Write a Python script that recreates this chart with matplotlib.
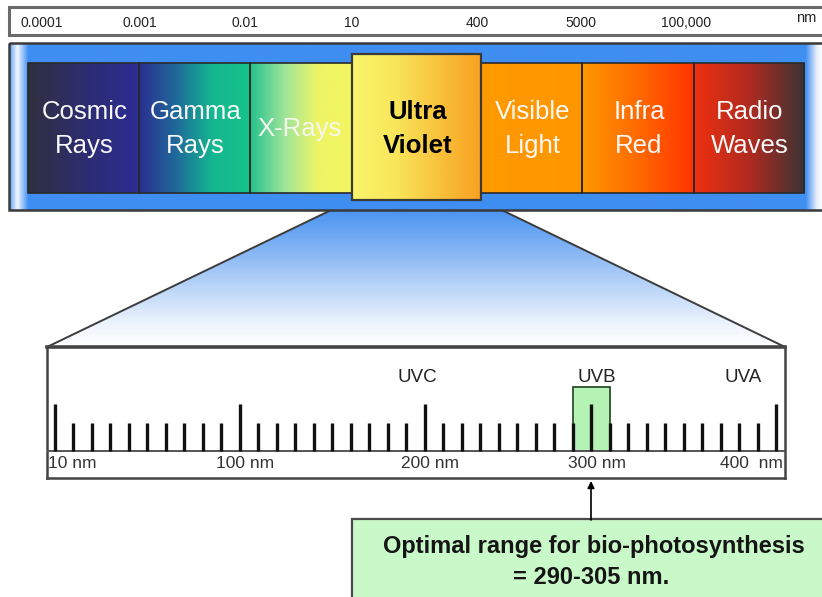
import numpy as np
import matplotlib
matplotlib.use("Agg")
import matplotlib.pyplot as plt
from matplotlib.colors import LinearSegmentedColormap
from matplotlib.patches import Rectangle, Polygon

# ---------------- data ----------------
scale_labels = ["0.0001", "0.001", "0.01", "10", "400", "5000", "100,000"]
scale_unit = "nm"
band_names = ["Cosmic\nRays", "Gamma\nRays", "X-Rays", "Ultra\nViolet",
              "Visible\nLight", "Infra\nRed", "Radio\nWaves"]
band_colors = [
    ["#30303f", "#2d2d70", "#2c2c96"],
    ["#2a2e92", "#1f6a9a", "#14b890", "#14c48a"],
    ["#24c28e", "#9ee49a", "#eef566", "#f4f560"],
    ["#faf46c", "#f9e65a", "#f8c23c", "#f8a020"],
    ["#ff9a00", "#ff9600"],
    ["#ff9800", "#ff6a00", "#ff3300"],
    ["#f03010", "#b02a20", "#3a3434"],
]
ruler_nm = [10, 100, 200, 300, 400]
ruler_major_idx = [0, 10, 20, 29, 39]
ruler_n_ticks = 40
ruler_labels = ["10 nm", "100 nm", "200 nm", "300 nm", "400  nm"]
uv_names = ["UVC", "UVB", "UVA"]
uv_label_idx = [19.6, 29.3, 37.2]
uvb_highlight_idx = (28, 30)
note_lines = ["Optimal range for bio-photosynthesis", "= 290-305 nm."]

# ---------------- figure ----------------
W, H = 822, 597
fig = plt.figure(figsize=(W / 100, H / 100), dpi=100)
ax = fig.add_axes([0, 0, 1, 1])
FONT = "Liberation Sans"


def grad_img(a, x0, y0, x1, y1, colors, vertical=False, z=2, stops=None):
    if stops is None:
        cmap = LinearSegmentedColormap.from_list("g", colors, N=1024)
    else:
        cmap = LinearSegmentedColormap.from_list("g", list(zip(stops, colors)), N=1024)
    v = np.linspace(0, 1, 1024)
    arr = v.reshape(-1, 1) if vertical else v.reshape(1, -1)
    im = a.imshow(arr, cmap=cmap, extent=(x0, x1, y1, y0), origin="upper",
                  aspect="auto", interpolation="bilinear", zorder=z)
    return im


# top scale bar
ax.add_patch(Rectangle((9, 7), 830, 28, fc="white", ec="#6a6a6a", lw=2.2, zorder=3))
scale_x = [42, 140, 245, 352, 477, 581, 686]
for lab, x in zip(scale_labels, scale_x):
    ax.text(x, 23, lab, ha="center", va="center", fontsize=10, family=FONT,
            color="#222222", zorder=4)
ax.text(796, 18, scale_unit, ha="left", va="center", fontsize=10.5, family=FONT,
        color="#222222", zorder=4)

# funnel (drawn below the blue band)
fun_pts = [(352, 200), (481, 200), (785, 347), (47, 347)]
fun = Polygon(fun_pts, closed=True, fc="none", ec="none", zorder=1)
ax.add_patch(fun)
im = grad_img(ax, 40, 200, 790, 347,
              ["#3a8cf0", "#7cb0f4", "#bcd6f8", "#eef4fd", "#ffffff"],
              vertical=True, z=1, stops=[0, 0.3, 0.6, 0.85, 1])
im.set_clip_path(fun)
ax.plot([352, 47], [200, 347], color="#3c3c3c", lw=1.4, zorder=2)
ax.plot([481, 785], [200, 347], color="#3c3c3c", lw=1.4, zorder=2)

# blue band
bx0, bx1 = 9, 822
grad_img(ax, bx0, 43, bx1, 210,
         ["#5a9ef4", "#f4f8ff", "#3f8ef2", "#3f8ef2", "#e6eefc", "#ffffff"],
         stops=[0, (17 - bx0) / (bx1 - bx0), (28 - bx0) / (bx1 - bx0),
                (805 - bx0) / (bx1 - bx0), (816 - bx0) / (bx1 - bx0), 1], z=3)
ax.add_patch(Rectangle((9, 43), 840, 167, fc="none", ec="#3a3a3a", lw=1.8, zorder=4))

# spectrum bands
edges = [28, 139, 250, 352, 481, 582, 694, 804]
top, bot = 63, 193
for i, (name, cols) in enumerate(zip(band_names, band_colors)):
    x0, x1 = edges[i], edges[i + 1]
    if i == 3:
        y0, y1, z = 54, 200, 7
    else:
        y0, y1, z = top, bot, 5
    grad_img(ax, x0, y0, x1, y1, cols, z=z)
    ax.add_patch(Rectangle((x0, y0), x1 - x0, y1 - y0, fc="none",
                           ec="#2a2a2a" if i != 3 else "#3a3a3a",
                           lw=1.2 if i != 3 else 1.6, zorder=z + 0.5))
    cx = (x0 + x1) / 2
    lines = name.split("\n")
    if i == 3:
        kw = dict(color="black", fontweight="bold")
    elif i == 2:
        kw = dict(color="#f6f8f0")
    else:
        kw = dict(color="#f8f8f8")
    if len(lines) == 1:
        ys = [129]
    else:
        ys = [112, 146]
    for ln, yy in zip(lines, ys):
        ax.text(cx + (1 if i != 2 else -1), yy, ln, ha="center", va="center",
                fontsize=18.5, family=FONT, zorder=z + 1, **kw)

# arrow
ax.annotate("", xy=(591, 481), xytext=(591, 520),
            arrowprops=dict(arrowstyle="-|>", color="black", lw=1.2,
                            mutation_scale=10, shrinkA=0, shrinkB=0), zorder=6)

# note box
ax.add_patch(Rectangle((352, 519), 500, 90, fc="#c9f8c9", ec="#4a4a4a", lw=1.6, zorder=5))
ax.text(594, 547, note_lines[0], ha="center", va="center", fontsize=17,
        fontweight="bold", family=FONT, color="#151515", zorder=6)
ax.text(591, 578, note_lines[1], ha="center", va="center", fontsize=17,
        fontweight="bold", family=FONT, color="#151515", zorder=6)

ax.set_xlim(0, W)
ax.set_ylim(H, 0)
ax.axis("off")

# ---------------- ruler (inset axes in tick-index units) ----------------
rx0, rx1, ry0, ry1 = 47, 785, 347, 478
rax = fig.add_axes([rx0 / W, 1 - ry1 / H, (rx1 - rx0) / W, (ry1 - ry0) / H])
rax.set_facecolor("white")
spacing = (776 - 55) / (ruler_n_ticks - 1)
rax.set_xlim(-(55 - rx0) / spacing, (ruler_n_ticks - 1) + (rx1 - 776) / spacing)
rax.set_ylim(ry1, ry0)
for s in rax.spines.values():
    s.set_color("#444444")
    s.set_linewidth(1.8)
rax.spines["top"].set_linewidth(2.6)
rax.set_xticks([])
rax.set_yticks([])

base_y = 451
h0, h1 = uvb_highlight_idx
rax.add_patch(Rectangle((h0, 387), h1 - h0, base_y - 387,
                        fc="#b4f3b4", ec="#2e4e2e", lw=1.3, zorder=2))

rax.axhline(base_y, color="#555555", lw=1.4, zorder=3)
idx = np.arange(ruler_n_ticks)
minor = [i for i in idx if i not in ruler_major_idx]
rax.vlines(minor, 423, base_y, color="#111111", lw=2.4, zorder=4)
rax.vlines(ruler_major_idx, 404, base_y, color="#111111", lw=2.4, zorder=4)

for k, (lab, mi) in enumerate(zip(ruler_labels, ruler_major_idx)):
    if k == 0:
        rax.text(mi - 0.38, 463, lab, ha="left", va="center", fontsize=12.5,
                 family=FONT, color="#333333")
    elif k == len(ruler_labels) - 1:
        rax.text(mi + 0.35, 463, lab, ha="right", va="center", fontsize=12.5,
                 family=FONT, color="#333333")
    else:
        rax.text(mi + 0.3, 463, lab, ha="center", va="center", fontsize=12.5,
                 family=FONT, color="#333333")

for name, xi in zip(uv_names, uv_label_idx):
    rax.text(xi, 378, name, ha="center", va="center", fontsize=13.5,
             family=FONT, color="#222222", zorder=5)

fig.savefig("out.png", dpi=100)
